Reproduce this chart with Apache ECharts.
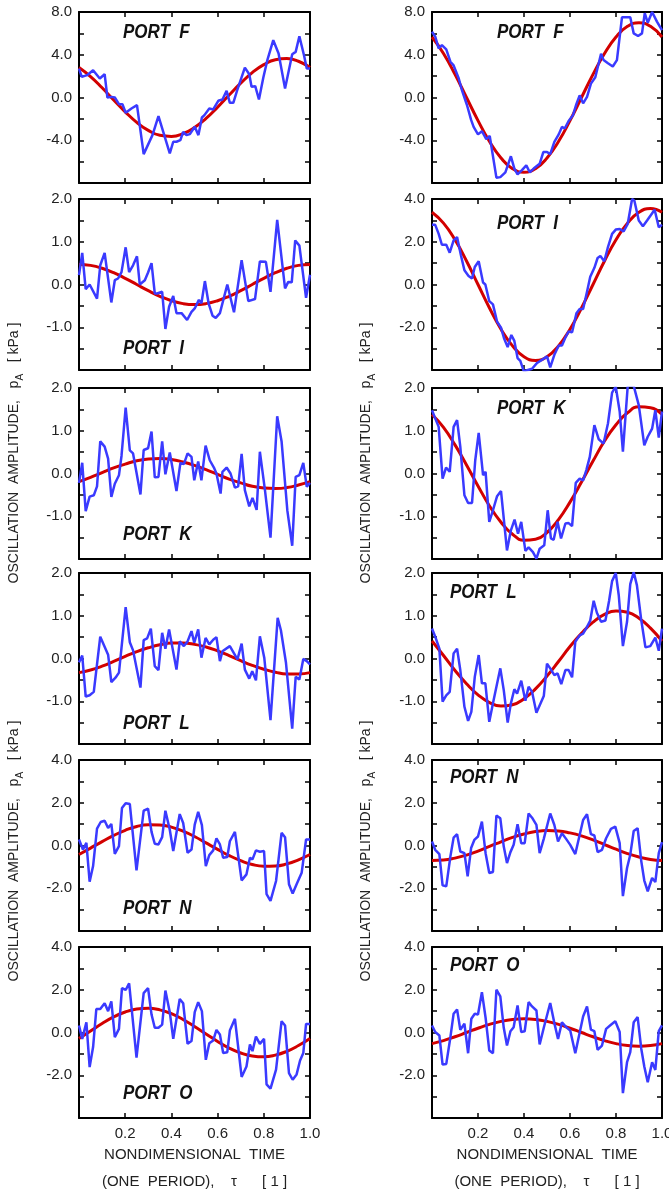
<!DOCTYPE html>
<html><head><meta charset="utf-8">
<script src="https://cdn.jsdelivr.net/npm/echarts@6/dist/echarts.min.js"></script>
<style>html,body{margin:0;padding:0;background:#fff}#c{width:669px;height:1194px}</style>
</head><body><div id="c"></div>
<script>
// ---------- DATA ----------
const tRed = [0,0.05,0.1,0.15,0.2,0.25,0.3,0.35,0.4,0.45,0.5,0.55,0.6,0.65,0.7,0.75,0.8,0.85,0.9,0.95,1];
const xLabels = ['0.2','0.4','0.6','0.8','1.0'];
const yLabels8 = ['8.0','4.0','0.0','-4.0'];
const yLabels2 = ['2.0','1.0','0.0','-1.0'];
const yLabels4 = ['4.0','2.0','0.0','-2.0'];

// PORT F
const redF_L = [2.81,1.96,0.91,-0.23,-1.34,-2.33,-3.08,-3.54,-3.64,-3.39,-2.81,-1.96,-0.91,0.23,1.34,2.33,3.08,3.54,3.64,3.39,2.81];
const blueF_L = [[0,2.7],[0.012,1.93],[0.035,2.09],[0.061,2.55],[0.090,1.78],[0.111,2.18],[0.123,0.0],[0.140,0.06],[0.155,0.0],[0.173,-0.62],[0.188,-0.62],[0.202,-1.43],[0.227,-1.03],[0.251,-0.72],[0.280,-5.3],[0.318,-3.52],[0.344,-1.74],[0.393,-5.23],[0.408,-4.14],[0.422,-4.14],[0.439,-3.99],[0.451,-3.21],[0.465,-3.52],[0.480,-3.43],[0.501,-2.74],[0.517,-3.52],[0.532,-1.87],[0.543,-1.65],[0.564,-1.03],[0.581,-1.12],[0.603,-0.31],[0.621,-0.19],[0.639,0.62],[0.653,-0.5],[0.668,-0.5],[0.685,0.69],[0.718,2.8],[0.737,2.18],[0.747,1.0],[0.763,1.06],[0.779,-0.19],[0.798,1.87],[0.816,3.55],[0.841,5.36],[0.864,4.11],[0.892,0.84],[0.923,4.05],[0.938,4.27],[0.954,5.73],[0.974,3.96],[0.986,2.71],[1.0,2.71]];
const redF_R = [5.66,4.12,2.16,0,-2.16,-4.12,-5.66,-6.66,-7.0,-6.66,-5.66,-4.12,-2.16,0,2.16,4.12,5.66,6.66,7.0,6.66,5.66];
const blueF_R = [[0,6.15],[0.014,5.7],[0.029,4.6],[0.043,4.9],[0.062,4.5],[0.080,3.35],[0.094,3.0],[0.116,1.8],[0.130,0.7],[0.152,-0.7],[0.170,-2.1],[0.181,-2.75],[0.200,-3.45],[0.217,-3.15],[0.236,-3.9],[0.251,-3.6],[0.280,-7.5],[0.297,-7.45],[0.319,-7.0],[0.343,-5.5],[0.358,-6.65],[0.372,-7.2],[0.391,-6.8],[0.410,-6.35],[0.425,-7.0],[0.442,-6.65],[0.468,-6.2],[0.484,-5.1],[0.500,-5.1],[0.514,-5.3],[0.532,-4.15],[0.551,-3.45],[0.565,-2.75],[0.577,-2.9],[0.594,-2.2],[0.613,-1.65],[0.628,-0.6],[0.642,0.2],[0.657,-0.55],[0.674,0.05],[0.691,1.3],[0.710,1.9],[0.735,4.1],[0.746,3.5],[0.765,3.2],[0.786,2.9],[0.804,3.5],[0.826,7.5],[0.862,7.5],[0.877,6.0],[0.896,5.75],[0.913,6.0],[0.925,7.9],[0.938,7.0],[0.957,8.0],[0.978,7.1],[1.0,6.3]];

// PORT I
const redI_L = [0.47,0.447,0.38,0.276,0.145,0,-0.145,-0.276,-0.38,-0.447,-0.47,-0.447,-0.38,-0.276,-0.145,0,0.145,0.276,0.38,0.447,0.47];
const blueI_L = [[0,0.22],[0.014,0.74],[0.029,-0.11],[0.046,0.0],[0.078,-0.33],[0.092,0.45],[0.111,0.74],[0.140,-0.42],[0.155,0.10],[0.169,0.14],[0.184,0.29],[0.202,0.87],[0.217,0.29],[0.234,0.45],[0.251,0.66],[0.263,0.0],[0.285,0.10],[0.299,0.28],[0.314,0.50],[0.328,-0.21],[0.338,-0.21],[0.360,-0.17],[0.374,-1.04],[0.390,-0.52],[0.408,-0.27],[0.422,-0.67],[0.444,-0.67],[0.468,-0.83],[0.487,-0.64],[0.501,-0.56],[0.519,-0.36],[0.530,-0.44],[0.545,0.08],[0.561,-0.44],[0.578,-0.73],[0.592,-0.78],[0.610,-0.67],[0.642,0.0],[0.671,-0.65],[0.704,0.57],[0.733,-0.39],[0.762,-0.34],[0.783,0.54],[0.809,0.53],[0.829,-0.17],[0.858,1.51],[0.892,-0.09],[0.906,0.06],[0.921,0.05],[0.936,1.03],[0.954,0.91],[0.983,-0.31],[1.0,0.23]];
const redI_R = [3.38,2.87,2.09,1.10,0,-1.10,-2.09,-2.87,-3.38,-3.55,-3.38,-2.87,-2.09,-1.10,0,1.10,2.09,2.87,3.38,3.55,3.38];
const blueI_R = [[0,2.79],[0.014,2.79],[0.029,2.37],[0.043,1.86],[0.062,1.86],[0.077,1.49],[0.094,2.06],[0.109,2.22],[0.126,1.36],[0.141,0.67],[0.159,0.40],[0.174,0.28],[0.186,0.82],[0.203,1.09],[0.222,0.09],[0.232,0.0],[0.249,-0.78],[0.265,-0.93],[0.283,-1.74],[0.300,-2.02],[0.314,-2.54],[0.329,-2.93],[0.345,-2.36],[0.358,-2.64],[0.372,-3.44],[0.384,-3.57],[0.399,-4.06],[0.435,-3.94],[0.457,-3.67],[0.486,-3.47],[0.500,-3.36],[0.514,-3.88],[0.533,-3.26],[0.551,-2.85],[0.565,-2.85],[0.580,-2.48],[0.594,-2.20],[0.609,-2.23],[0.628,-1.35],[0.642,-1.15],[0.657,-1.15],[0.674,-0.34],[0.688,0.36],[0.706,0.78],[0.720,1.24],[0.732,1.33],[0.749,1.09],[0.764,1.71],[0.783,2.37],[0.799,2.57],[0.816,2.60],[0.833,2.48],[0.851,2.84],[0.870,4.0],[0.880,3.92],[0.899,2.99],[0.917,2.73],[0.935,2.99],[0.968,3.50],[0.986,2.68],[1.0,2.79]];

// PORT K
const redK_L = [-0.19,-0.09,0.02,0.13,0.22,0.30,0.34,0.35,0.33,0.27,0.19,0.09,-0.02,-0.13,-0.22,-0.30,-0.34,-0.35,-0.33,-0.27,-0.19];
const blueK_L = [[0,-0.22],[0.014,0.25],[0.029,-0.88],[0.046,-0.54],[0.064,-0.51],[0.078,-0.30],[0.092,0.75],[0.111,0.63],[0.126,0.35],[0.140,-0.55],[0.155,-0.24],[0.173,-0.04],[0.184,0.41],[0.202,1.54],[0.220,0.54],[0.234,0.47],[0.266,-0.49],[0.280,0.55],[0.299,0.59],[0.314,0.98],[0.328,-0.09],[0.344,-0.08],[0.360,0.75],[0.374,-0.02],[0.393,0.49],[0.422,-0.41],[0.439,0.25],[0.454,0.22],[0.470,0.47],[0.487,0.39],[0.499,-0.16],[0.516,0.28],[0.530,-0.16],[0.548,0.65],[0.566,0.31],[0.584,0.14],[0.595,0.0],[0.613,-0.47],[0.621,0.04],[0.639,0.14],[0.656,0.0],[0.675,-0.33],[0.689,-0.30],[0.704,0.46],[0.718,-0.39],[0.737,-0.77],[0.751,-0.57],[0.769,-0.85],[0.783,0.51],[0.805,-0.39],[0.829,-1.50],[0.858,1.34],[0.877,0.75],[0.902,-0.87],[0.923,-1.69],[0.938,-0.08],[0.954,-0.04],[0.971,0.25],[0.986,-0.31],[1.0,-0.22]];
const redK_R = [1.38,1.08,0.67,0.20,-0.29,-0.76,-1.14,-1.42,-1.56,-1.54,-1.38,-1.08,-0.67,-0.20,0.29,0.76,1.14,1.42,1.56,1.54,1.38];
const blueK_R = [[0,1.48],[0.014,1.29],[0.029,1.09],[0.046,-0.12],[0.061,0.14],[0.077,0.04],[0.094,1.09],[0.109,1.25],[0.123,0.63],[0.141,-0.51],[0.157,-0.69],[0.174,-0.69],[0.188,0.31],[0.203,0.95],[0.222,-0.04],[0.233,0.04],[0.249,-1.13],[0.265,-0.86],[0.283,-0.53],[0.300,-0.41],[0.326,-1.80],[0.343,-1.33],[0.359,-1.08],[0.374,-1.41],[0.388,-1.13],[0.406,-1.81],[0.420,-1.73],[0.439,-1.84],[0.454,-1.99],[0.468,-1.76],[0.488,-1.68],[0.503,-0.86],[0.517,-1.52],[0.529,-1.55],[0.546,-1.13],[0.561,-1.52],[0.580,-1.17],[0.594,-1.16],[0.609,-1.23],[0.625,-0.22],[0.642,-0.12],[0.657,-0.16],[0.671,0.08],[0.686,0.39],[0.706,1.13],[0.725,0.80],[0.746,0.70],[0.765,1.17],[0.783,1.89],[0.799,2.03],[0.816,1.45],[0.830,0.51],[0.851,2.05],[0.877,2.05],[0.899,1.60],[0.923,0.66],[0.938,0.86],[0.957,1.05],[0.971,1.48],[0.986,0.84],[1.0,1.45]];

// PORT L
const redL_L = [-0.33,-0.27,-0.18,-0.07,0.05,0.16,0.25,0.32,0.36,0.36,0.33,0.27,0.18,0.07,-0.05,-0.16,-0.25,-0.32,-0.36,-0.36,-0.33];
const blueL_L = [[0,-0.09],[0.014,0.07],[0.029,-0.89],[0.046,-0.86],[0.064,-0.78],[0.092,0.51],[0.126,0.09],[0.140,-0.55],[0.158,-0.45],[0.173,-0.33],[0.202,1.20],[0.220,0.38],[0.234,0.19],[0.266,-0.68],[0.280,0.43],[0.295,0.47],[0.311,0.70],[0.328,-0.18],[0.344,-0.27],[0.360,0.60],[0.374,0.23],[0.390,0.68],[0.422,-0.26],[0.436,0.40],[0.454,0.29],[0.470,0.40],[0.487,0.64],[0.499,0.37],[0.516,0.68],[0.530,0.02],[0.548,0.48],[0.564,0.33],[0.581,0.44],[0.595,0.50],[0.610,-0.06],[0.621,0.17],[0.653,0.29],[0.686,-0.02],[0.704,0.35],[0.718,-0.26],[0.737,-0.47],[0.750,-0.30],[0.766,-0.51],[0.783,0.52],[0.802,0.02],[0.829,-1.44],[0.860,0.95],[0.874,0.66],[0.896,-0.10],[0.923,-1.64],[0.938,-0.43],[0.954,-0.49],[0.971,-0.01],[0.986,-0.06],[1.0,-0.14]];
const redL_R = [0.41,0.07,-0.28,-0.59,-0.85,-1.03,-1.11,-1.08,-0.94,-0.71,-0.41,-0.07,0.28,0.59,0.85,1.03,1.11,1.08,0.94,0.71,0.41];
const blueL_R = [[0,0.70],[0.014,0.51],[0.032,0.23],[0.046,-1.01],[0.062,-0.86],[0.077,-0.78],[0.094,0.12],[0.109,0.23],[0.123,-0.27],[0.141,-1.13],[0.157,-1.46],[0.171,-1.25],[0.186,-0.43],[0.203,0.08],[0.217,-0.58],[0.232,-0.58],[0.249,-1.48],[0.268,-0.97],[0.297,-0.23],[0.312,-0.74],[0.329,-1.50],[0.343,-1.05],[0.358,-0.72],[0.370,-0.82],[0.388,-0.52],[0.406,-0.99],[0.420,-0.66],[0.435,-0.78],[0.454,-1.27],[0.486,-0.88],[0.500,-0.12],[0.514,-0.23],[0.532,-0.39],[0.546,-0.35],[0.562,-0.60],[0.580,-0.27],[0.594,-0.27],[0.609,-0.44],[0.623,0.39],[0.642,0.54],[0.657,0.58],[0.674,0.74],[0.688,0.89],[0.703,1.35],[0.717,1.07],[0.735,0.86],[0.754,0.89],[0.770,1.35],[0.783,1.81],[0.799,2.0],[0.812,1.48],[0.830,0.29],[0.848,0.86],[0.862,1.74],[0.877,2.02],[0.891,1.71],[0.909,0.93],[0.928,0.26],[0.949,0.29],[0.971,0.49],[0.986,0.18],[1.0,0.70]];

// PORT N
const redN_L = [-0.42,-0.12,0.18,0.47,0.71,0.89,0.97,0.96,0.86,0.67,0.42,0.12,-0.18,-0.47,-0.71,-0.89,-0.97,-0.96,-0.86,-0.67,-0.42];
const blueN_L = [[0,0.28],[0.017,-0.19],[0.032,0.12],[0.046,-1.69],[0.061,-0.96],[0.078,0.79],[0.094,1.10],[0.111,1.16],[0.126,0.82],[0.140,1.01],[0.155,-0.39],[0.173,-0.03],[0.186,1.75],[0.202,1.98],[0.220,1.94],[0.249,-1.16],[0.280,1.63],[0.299,1.72],[0.314,0.64],[0.328,0.08],[0.344,0.05],[0.360,0.39],[0.374,1.63],[0.393,0.74],[0.408,-0.26],[0.436,1.47],[0.451,1.05],[0.470,-0.34],[0.487,-0.19],[0.501,0.98],[0.516,1.57],[0.532,0.95],[0.549,-0.96],[0.564,-0.45],[0.581,-0.23],[0.595,0.33],[0.610,0.05],[0.624,-0.57],[0.642,-0.54],[0.653,0.20],[0.675,0.64],[0.704,-1.63],[0.725,-1.35],[0.740,-0.57],[0.751,-0.65],[0.766,-0.23],[0.783,-0.29],[0.801,-0.26],[0.812,-2.28],[0.829,-2.59],[0.853,-1.66],[0.877,0.59],[0.892,0.39],[0.909,-1.81],[0.925,-2.25],[0.942,-1.81],[0.964,-1.27],[0.983,0.28],[1.0,0.28]];
const redN_R = [-0.70,-0.68,-0.59,-0.45,-0.26,-0.04,0.17,0.38,0.54,0.65,0.70,0.68,0.59,0.45,0.26,0.04,-0.17,-0.38,-0.54,-0.65,-0.70];
const blueN_R = [[0,0.19],[0.014,-0.20],[0.032,-0.40],[0.046,-1.86],[0.062,-1.91],[0.080,-0.51],[0.094,0.37],[0.109,0.53],[0.123,-0.28],[0.141,-0.36],[0.155,-1.44],[0.170,-0.12],[0.184,0.26],[0.200,0.42],[0.217,1.12],[0.233,-0.36],[0.249,-1.29],[0.265,-1.24],[0.280,1.40],[0.297,1.27],[0.312,-0.05],[0.326,-0.82],[0.341,-0.31],[0.355,0.03],[0.372,0.99],[0.388,0.11],[0.403,0.11],[0.420,1.50],[0.435,1.30],[0.454,0.96],[0.468,-0.36],[0.486,0.31],[0.514,1.50],[0.532,0.96],[0.548,0.19],[0.565,0.57],[0.583,0.31],[0.601,0.03],[0.623,-0.40],[0.657,1.19],[0.674,1.46],[0.691,0.53],[0.706,0.47],[0.720,-0.31],[0.739,-0.20],[0.757,0.34],[0.778,0.78],[0.797,0.88],[0.816,0.11],[0.830,-2.37],[0.848,-1.05],[0.862,-0.43],[0.877,0.68],[0.894,0.81],[0.910,-0.74],[0.923,-1.64],[0.938,-2.14],[0.957,-1.52],[0.971,-1.71],[0.986,-0.36],[1.0,0.16]];

// PORT O
const redO_L = [-0.28,0.07,0.42,0.73,0.96,1.10,1.14,1.06,0.88,0.61,0.28,-0.07,-0.42,-0.73,-0.96,-1.10,-1.14,-1.06,-0.88,-0.61,-0.28];
const blueO_L = [[0,0.33],[0.014,-0.30],[0.032,0.48],[0.046,-1.62],[0.061,-0.68],[0.075,1.10],[0.092,1.10],[0.111,1.37],[0.126,1.00],[0.140,1.46],[0.155,-0.22],[0.173,0.17],[0.186,2.08],[0.202,1.99],[0.217,2.30],[0.249,-1.18],[0.280,1.84],[0.299,2.08],[0.314,0.84],[0.328,0.22],[0.344,0.22],[0.360,0.37],[0.374,1.96],[0.393,0.95],[0.408,-0.30],[0.436,1.57],[0.451,1.37],[0.470,-0.53],[0.487,-0.40],[0.501,0.95],[0.516,1.42],[0.532,1.00],[0.549,-1.28],[0.564,-0.50],[0.581,-0.37],[0.595,0.12],[0.610,-0.09],[0.624,-0.96],[0.642,-0.92],[0.653,0.09],[0.675,0.64],[0.704,-2.08],[0.725,-1.59],[0.740,-0.56],[0.751,-0.87],[0.766,-0.19],[0.783,-0.53],[0.801,-0.30],[0.812,-2.43],[0.829,-2.63],[0.853,-1.74],[0.877,0.53],[0.892,0.33],[0.909,-1.90],[0.925,-2.21],[0.942,-1.96],[0.957,-1.31],[0.971,-0.96],[0.983,0.40],[1.0,0.40]];
const redO_R = [-0.52,-0.38,-0.20,0,0.20,0.38,0.52,0.61,0.64,0.61,0.52,0.38,0.20,0,-0.20,-0.38,-0.52,-0.61,-0.64,-0.61,-0.52];
const blueO_R = [[0,0.33],[0.014,0.02],[0.032,-0.14],[0.046,-1.50],[0.062,-1.47],[0.080,-0.22],[0.094,0.88],[0.109,1.08],[0.123,0.13],[0.141,0.41],[0.157,-0.97],[0.171,0.64],[0.186,0.88],[0.200,0.84],[0.217,1.89],[0.233,0.69],[0.249,-0.84],[0.265,-0.97],[0.280,2.0],[0.297,1.69],[0.312,0.22],[0.326,-0.61],[0.341,0.06],[0.355,0.25],[0.372,1.27],[0.388,0.02],[0.403,0.06],[0.420,1.42],[0.435,1.22],[0.454,1.03],[0.468,-0.56],[0.486,0.22],[0.514,1.38],[0.532,0.44],[0.548,-0.30],[0.565,0.48],[0.583,0.25],[0.601,0.09],[0.623,-0.97],[0.657,0.75],[0.674,1.22],[0.691,0.13],[0.706,0.06],[0.720,-0.81],[0.739,-0.61],[0.757,0.17],[0.778,0.36],[0.797,0.53],[0.816,0.02],[0.830,-2.84],[0.848,-1.39],[0.862,-0.92],[0.877,0.48],[0.894,0.72],[0.910,-0.77],[0.923,-1.59],[0.938,-2.33],[0.957,-1.39],[0.971,-1.75],[0.986,0.06],[1.0,0.33]];

// ---------- LAYOUT ----------
const FONT = '"Liberation Sans", Arial, sans-serif';
const colLeft = [79, 432], colWidth = [231, 230];
const rowTop = [12, 199, 388, 573, 760, 947], rowH = 171;

const panels = [
  {port:'F', col:0, row:0, min:-8, max:8, step:2,   labels:yLabels8, blue:blueF_L, red:redF_L, lx:123, ly:32},
  {port:'F', col:1, row:0, min:-8, max:8, step:2,   labels:yLabels8, blue:blueF_R, red:redF_R, lx:497, ly:32},
  {port:'I', col:0, row:1, min:-2, max:2, step:0.5, labels:yLabels2, blue:blueI_L, red:redI_L, lx:123, ly:348},
  {port:'I', col:1, row:1, min:-4, max:4, step:1,   labels:yLabels4, blue:blueI_R, red:redI_R, lx:497, ly:223},
  {port:'K', col:0, row:2, min:-2, max:2, step:0.5, labels:yLabels2, blue:blueK_L, red:redK_L, lx:123, ly:534},
  {port:'K', col:1, row:2, min:-2, max:2, step:0.5, labels:yLabels2, blue:blueK_R, red:redK_R, lx:497, ly:408},
  {port:'L', col:0, row:3, min:-2, max:2, step:0.5, labels:yLabels2, blue:blueL_L, red:redL_L, lx:123, ly:723},
  {port:'L', col:1, row:3, min:-2, max:2, step:0.5, labels:yLabels2, blue:blueL_R, red:redL_R, lx:450, ly:592},
  {port:'N', col:0, row:4, min:-4, max:4, step:1,   labels:yLabels4, blue:blueN_L, red:redN_L, lx:123, ly:908},
  {port:'N', col:1, row:4, min:-4, max:4, step:1,   labels:yLabels4, blue:blueN_R, red:redN_R, lx:450, ly:777},
  {port:'O', col:0, row:5, min:-4, max:4, step:1,   labels:yLabels4, blue:blueO_L, red:redO_L, lx:123, ly:1093},
  {port:'O', col:1, row:5, min:-4, max:4, step:1,   labels:yLabels4, blue:blueO_R, red:redO_R, lx:450, ly:965}
];

const grid = [], xAxis = [], yAxis = [], series = [], graphic = [];
panels.forEach((p, i) => {
  grid.push({left: colLeft[p.col], top: rowTop[p.row], width: colWidth[p.col], height: rowH,
    containLabel: false, outerBoundsMode: 'none'});
  const tick = {show: true, inside: true, length: 5, lineStyle: {color: '#000', width: 1.5}};
  const line = {show: true, onZero: false, lineStyle: {color: '#000', width: 2}};
  xAxis.push({type: 'value', gridIndex: i, min: 0, max: 1, interval: 0.2, position: 'bottom',
    axisLine: line, axisTick: tick, splitLine: {show: false},
    axisLabel: {show: p.row === 5, margin: 8, fontFamily: FONT, fontSize: 15, color: '#222',
      formatter: v => { const s = v.toFixed(1); return xLabels.includes(s) ? s : ''; }}});
  xAxis.push({type: 'value', gridIndex: i, min: 0, max: 1, interval: 0.2, position: 'top',
    axisLine: line, axisTick: tick, splitLine: {show: false}, axisLabel: {show: false}});
  yAxis.push({type: 'value', gridIndex: i, min: p.min, max: p.max, interval: p.step, position: 'left',
    axisLine: line, axisTick: tick, splitLine: {show: false},
    axisLabel: {margin: 7, fontFamily: FONT, fontSize: 15, color: '#222',
      formatter: v => { const s = v.toFixed(1); return p.labels.includes(s) ? s : ''; }}});
  yAxis.push({type: 'value', gridIndex: i, min: p.min, max: p.max, interval: p.step, position: 'right',
    axisLine: line, axisTick: tick, splitLine: {show: false}, axisLabel: {show: false}});
  series.push({type: 'line', xAxisIndex: 2*i, yAxisIndex: 2*i, data: tRed.map((t, k) => [t, p.red[k]]),
    smooth: true, symbol: 'none', lineStyle: {color: '#d20000', width: 3}, z: 2});
  series.push({type: 'line', xAxisIndex: 2*i, yAxisIndex: 2*i, data: p.blue,
    symbol: 'none', lineStyle: {color: '#3a3aff', width: 2.5}, z: 3});
  graphic.push({type: 'text', x: p.lx, y: p.ly, scaleY: 1.2, z: 10,
    style: {text: 'PORT  ' + p.port, fontFamily: FONT, fontSize: 17, fontStyle: 'italic', fontWeight: 'bold',
      fill: '#111', align: 'left', verticalAlign: 'middle'}});
});

// y-axis titles
const yTitle = '{n|OSCILLATION  AMPLITUDE,   p}{s|A}{n|   [ kPa ]}';
const yRich = {n: {fontFamily: FONT, fontSize: 14, fill: '#222', lineHeight: 22},
               s: {fontFamily: FONT, fontSize: 10, fill: '#222', lineHeight: 12, verticalAlign: 'bottom'}};
[[14, 453], [14, 851], [366, 453], [366, 851]].forEach(([x, y]) => {
  graphic.push({type: 'text', x: x, y: y, rotation: Math.PI / 2,
    style: {text: yTitle, rich: yRich, align: 'center', verticalAlign: 'middle'}});
});
// x-axis titles
[194.5, 547].forEach(cx => {
  graphic.push({type: 'text', x: cx, y: 1155, style: {text: 'NONDIMENSIONAL  TIME', fontFamily: FONT, fontSize: 15,
    fill: '#222', align: 'center', verticalAlign: 'middle'}});
  graphic.push({type: 'text', x: cx, y: 1182, style: {text: '(ONE  PERIOD),    \u03c4      [ 1 ]', fontFamily: FONT, fontSize: 15,
    fill: '#222', align: 'center', verticalAlign: 'middle'}});
});

const chart = echarts.init(document.getElementById('c'), null, {renderer: 'canvas'});
chart.setOption({animation: false, backgroundColor: '#fff', grid, xAxis, yAxis, series, graphic});
</script></body></html>
